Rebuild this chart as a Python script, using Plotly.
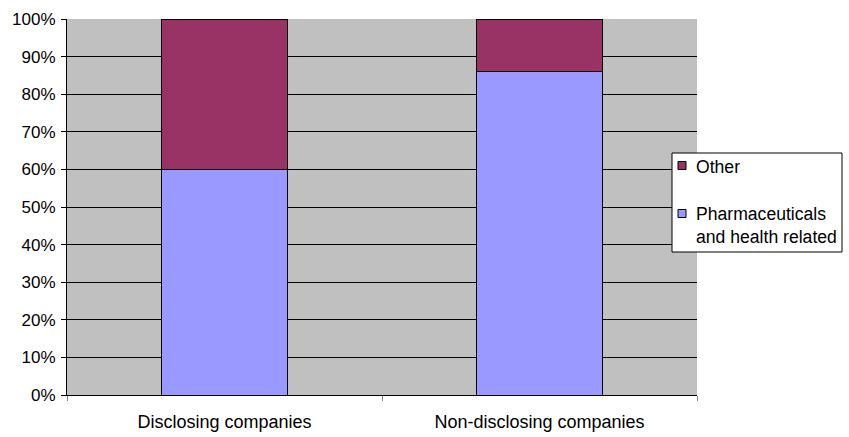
import plotly.graph_objects as go

categories = ["Disclosing companies", "Non-disclosing companies"]
pharma = [60, 86]
other = [40, 14]
series_names = ["Pharmaceuticals<br>and health related", "Other"]
series_colors = ["#9999FF", "#993366"]
y_ticks = [0, 10, 20, 30, 40, 50, 60, 70, 80, 90, 100]
y_tick_labels = [f"{v}%" for v in y_ticks]

FONT = "Liberation Sans, Arial, sans-serif"

# plot area in pixels
L, R, T, B = 67, 697, 19, 395
W, H = 849, 437


def px(xp):
    return (xp - L) / (R - L)


def py(yp):
    return (B - yp) / (B - T)


fig = go.Figure()
for vals, name, color in zip([pharma, other], series_names, series_colors):
    fig.add_trace(go.Bar(
        x=categories, y=vals, name=name,
        marker=dict(color=color, line=dict(color="#000000", width=1)),
        showlegend=False,
    ))

# legend box drawn over the right edge of the plot
shapes = [dict(type="rect", xref="paper", yref="paper",
               x0=px(672), x1=px(842), y0=py(153), y1=py(252),
               fillcolor="#FFFFFF", line=dict(color="#000000", width=1), layer="above")]
annotations = []
legend_rows = [(series_names[1], series_colors[1], 165.5), (series_names[0], series_colors[0], 213.5)]
for text, color, yc in legend_rows:
    shapes.append(dict(type="rect", xref="paper", yref="paper",
                       x0=px(678), x1=px(686), y0=py(yc + 4), y1=py(yc - 4),
                       fillcolor=color, line=dict(color="#000000", width=1), layer="above"))
    annotations.append(dict(xref="paper", yref="paper", x=px(694), y=py(yc - 11),
                            xanchor="left", yanchor="top", align="left", showarrow=False,
                            text=text, font=dict(family=FONT, size=17.6, color="#000000")))

fig.update_layout(
    width=W, height=H,
    barmode="stack", bargap=0.6,
    margin=dict(l=L, r=W - R, t=T, b=H - B),
    paper_bgcolor="#FFFFFF", plot_bgcolor="#C0C0C0",
    font=dict(family=FONT, size=17, color="#000000"),
    showlegend=False,
    shapes=shapes, annotations=annotations,
    xaxis=dict(
        showgrid=False, showline=True, linecolor="#000000", linewidth=1,
        ticks="outside", tickson="boundaries", ticklen=5, tickcolor="#808080",
        ticklabelstandoff=10, automargin=False, tickfont=dict(size=18),
    ),
    yaxis=dict(
        range=[0, 100], tickvals=y_ticks, ticktext=y_tick_labels,
        showgrid=True, gridcolor="#000000", gridwidth=1,
        showline=True, linecolor="#000000", linewidth=1,
        ticks="outside", ticklen=5, tickcolor="#000000",
        zeroline=False, ticklabelstandoff=2, automargin=False,
    ),
)

fig.write_html("out.html")
